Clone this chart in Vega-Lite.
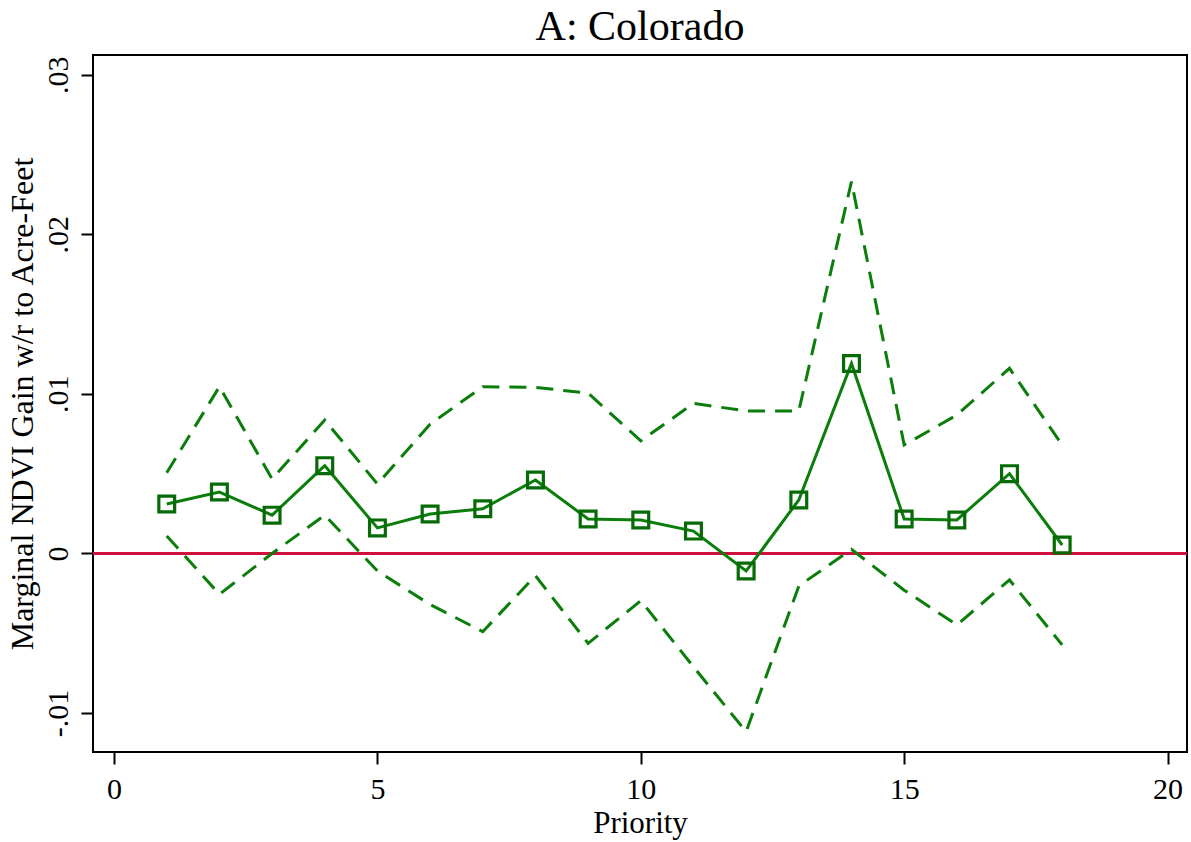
{
  "$schema": "https://vega.github.io/schema/vega-lite/v6.json",
  "width": 1094,
  "height": 697,
  "autosize": "none",
  "padding": {"left": 93, "top": 55, "right": 4, "bottom": 90},
  "background": "white",
  "config": {
    "view": {"stroke": "#000000", "strokeWidth": 2},
    "font": "Liberation Serif"
  },
  "title": {
    "text": "A: Colorado",
    "font": "Liberation Serif",
    "fontSize": 42,
    "fontWeight": "normal",
    "color": "#000000",
    "anchor": "middle",
    "offset": 6,
    "dy": 0
  },
  "data": {
    "values": [
      {"priority": 1, "est": 0.0031, "lo": 0.0011, "hi": 0.00506},
      {"priority": 2, "est": 0.00385, "lo": -0.00256, "hi": 0.01045},
      {"priority": 3, "est": 0.0024, "lo": 0.0000, "hi": 0.00467},
      {"priority": 4, "est": 0.0055, "lo": 0.0024, "hi": 0.00836},
      {"priority": 5, "est": 0.0016, "lo": -0.0011, "hi": 0.00435},
      {"priority": 6, "est": 0.00247, "lo": -0.0032, "hi": 0.0081},
      {"priority": 7, "est": 0.0028, "lo": -0.0049, "hi": 0.01045},
      {"priority": 8, "est": 0.0046, "lo": -0.0014, "hi": 0.0104},
      {"priority": 9, "est": 0.00216, "lo": -0.00563, "hi": 0.01005},
      {"priority": 10, "est": 0.0021, "lo": -0.00296, "hi": 0.00705},
      {"priority": 11, "est": 0.0014, "lo": -0.0071, "hi": 0.0094},
      {"priority": 12, "est": -0.0011, "lo": -0.01117, "hi": 0.00893},
      {"priority": 13, "est": 0.00335, "lo": -0.00204, "hi": 0.00893},
      {"priority": 14, "est": 0.0119, "lo": 0.00026, "hi": 0.0233},
      {"priority": 15, "est": 0.00216, "lo": -0.0023, "hi": 0.0068},
      {"priority": 16, "est": 0.0021, "lo": -0.00448, "hi": 0.00867},
      {"priority": 17, "est": 0.005, "lo": -0.00166, "hi": 0.0116},
      {"priority": 18, "est": 0.00053, "lo": -0.00573, "hi": 0.0068}
    ]
  },
  "encoding": {
    "x": {
      "field": "priority",
      "type": "quantitative",
      "scale": {"domain": [-0.4, 20.37], "nice": false, "zero": false},
      "axis": {
        "title": "Priority",
        "values": [0, 5, 10, 15, 20],
        "format": "d",
        "grid": false,
        "domain": false,
        "tickColor": "#000000",
        "tickWidth": 2,
        "tickSize": 12,
        "labelFont": "Liberation Serif",
        "labelFontSize": 30,
        "labelColor": "#000000",
        "labelPadding": 10,
        "titleFont": "Liberation Serif",
        "titleFontSize": 31,
        "titleFontWeight": "normal",
        "titleColor": "#000000",
        "titlePadding": 4
      }
    }
  },
  "layer": [
    {
      "mark": {"type": "rule", "color": "#d0103d", "strokeWidth": 2},
      "encoding": {"x": null, "y": {"datum": 0, "type": "quantitative"}}
    },
    {
      "mark": {"type": "line", "color": "#0a7d0a", "strokeWidth": 3, "strokeDash": [17, 10]},
      "encoding": {
        "y": {
          "field": "hi",
          "type": "quantitative",
          "scale": {"domain": [-0.01244, 0.03123], "nice": false, "zero": false},
          "axis": {
            "title": "Marginal NDVI Gain w/r to Acre-Feet",
            "values": [-0.01, 0, 0.01, 0.02, 0.03],
            "labelExpr": "datum.value == 0 ? '0' : (datum.value < 0 ? '-' : '') + '.0' + round(abs(datum.value) * 100)",
            "grid": false,
            "domain": false,
            "tickColor": "#000000",
            "tickWidth": 2,
            "tickSize": 12,
            "labelAngle": -90,
            "labelFont": "Liberation Serif",
            "labelFontSize": 30,
            "labelColor": "#000000",
            "labelPadding": 8,
            "titleFont": "Liberation Serif",
            "titleFontSize": 32,
            "titleFontWeight": "normal",
            "titleColor": "#000000",
            "titlePadding": 4
          }
        }
      }
    },
    {
      "mark": {"type": "line", "color": "#0a7d0a", "strokeWidth": 3, "strokeDash": [17, 10]},
      "encoding": {"y": {"field": "lo", "type": "quantitative"}}
    },
    {
      "mark": {"type": "line", "color": "#0a7d0a", "strokeWidth": 3},
      "encoding": {"y": {"field": "est", "type": "quantitative"}}
    },
    {
      "mark": {"type": "point", "shape": "square", "filled": false, "color": "#066b06", "strokeWidth": 3.2, "size": 250, "opacity": 1},
      "encoding": {"y": {"field": "est", "type": "quantitative"}}
    }
  ]
}
